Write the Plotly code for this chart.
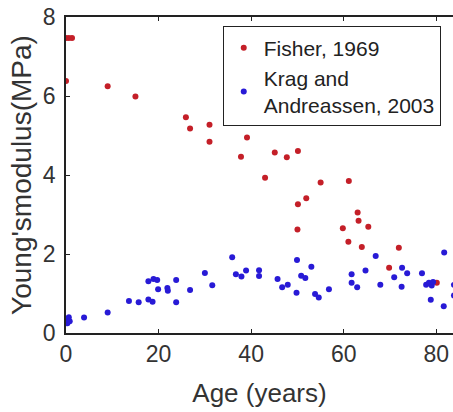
import plotly.graph_objects as go

# Fisher, 1969
fisher_age = [0, 0.6, 1.3, 0, 9.0, 15.0, 25.9, 26.8, 31.0, 31.0, 37.8, 39.1, 43.0, 45.1,
              47.7, 50.1, 51.9, 50.1, 50.0, 55.0, 61.1, 63.0, 63.2, 65.3, 59.8, 61.0,
              63.9, 71.9, 69.8, 80.1]
fisher_mod = [7.47, 7.47, 7.47, 6.38, 6.25, 5.99, 5.46, 5.18, 5.27, 4.84, 4.46, 4.95, 3.93, 4.57,
              4.45, 4.61, 3.41, 3.26, 2.62, 3.81, 3.85, 3.05, 2.84, 2.69, 2.65, 2.31,
              2.18, 2.16, 1.65, 1.27]

# Krag and Andreassen, 2003
krag_age = [0.3, 0.4, 0.6, 0.8, 3.9, 9.0, 13.6, 15.7, 17.8, 18.7, 17.8, 18.9, 19.7, 19.9,
            21.9, 22.0, 23.8, 23.8, 26.8, 30.0, 31.6, 35.9, 36.7, 37.9, 38.9, 41.7, 41.7,
            45.7, 46.7, 47.9, 49.8, 49.9, 50.8, 51.7, 53.0, 53.8, 54.6, 56.8, 61.7, 61.7,
            62.9, 64.7, 66.9, 67.9, 70.9, 72.6, 73.7, 72.5, 76.9, 77.8, 78.4, 79.0, 79.3,
            78.8, 81.7, 81.6, 83.8, 83.8]
krag_mod = [0.25, 0.33, 0.40, 0.30, 0.39, 0.52, 0.81, 0.78, 0.85, 0.79, 1.31, 1.37, 1.34, 1.11,
            1.14, 1.07, 1.34, 0.78, 1.09, 1.52, 1.21, 1.92, 1.49, 1.43, 1.58, 1.59, 1.44,
            1.37, 1.16, 1.22, 1.02, 1.85, 1.45, 1.39, 1.68, 0.99, 0.90, 1.11, 1.49, 1.27,
            1.16, 1.58, 1.95, 1.22, 1.41, 1.65, 1.51, 1.17, 1.51, 1.22, 1.27, 1.20, 1.29,
            0.84, 2.04, 0.68, 1.22, 0.95]

x_ticks = [0, 20, 40, 60, 80]
y_ticks = [0, 2, 4, 6, 8]

FONT = "Liberation Sans, Arial, sans-serif"
TXT = "#333333"

fig = go.Figure()
fig.add_trace(go.Scatter(x=fisher_age, y=fisher_mod, mode="markers", name="Fisher, 1969",
                         marker=dict(color="#c41f28", size=6, line=dict(width=0))))
fig.add_trace(go.Scatter(x=krag_age, y=krag_mod, mode="markers", name="Krag and<br>Andreassen, 2003",
                         marker=dict(color="#281ad6", size=6, line=dict(width=0))))

fig.update_layout(
    width=453, height=412,
    margin=dict(l=66, r=0, t=17, b=79),
    paper_bgcolor="white", plot_bgcolor="white",
    font=dict(family=FONT, color=TXT),
    showlegend=True,
    legend=dict(x=0.405, y=0.97, xanchor="left", yanchor="top",
                bordercolor="#222222", borderwidth=1, bgcolor="white",
                font=dict(size=21, family=FONT, color="#222222"),
                itemwidth=30, tracegroupgap=0),
)
fig.update_xaxes(range=[0, 83.6], tickvals=x_ticks, ticktext=[str(v) for v in x_ticks],
                 showline=True, linecolor="#222222", linewidth=1.5, mirror="ticks",
                 ticks="inside", ticklen=4, tickcolor="#222222", showgrid=False, zeroline=False,
                 tickfont=dict(size=23, color=TXT),
                 title=dict(text="Age (years)", font=dict(size=26, color=TXT), standoff=17))
fig.update_yaxes(range=[0, 8], tickvals=y_ticks, ticktext=[str(v) for v in y_ticks],
                 showline=True, linecolor="#222222", linewidth=1.5, mirror=False,
                 ticks="inside", ticklen=4, tickcolor="#222222", showgrid=False, zeroline=False,
                 tickfont=dict(size=23, color=TXT), ticklabelstandoff=4,
                 title=dict(text="Young'smodulus(MPa)", font=dict(size=28, color=TXT), standoff=3))

fig.write_html("out.html")
